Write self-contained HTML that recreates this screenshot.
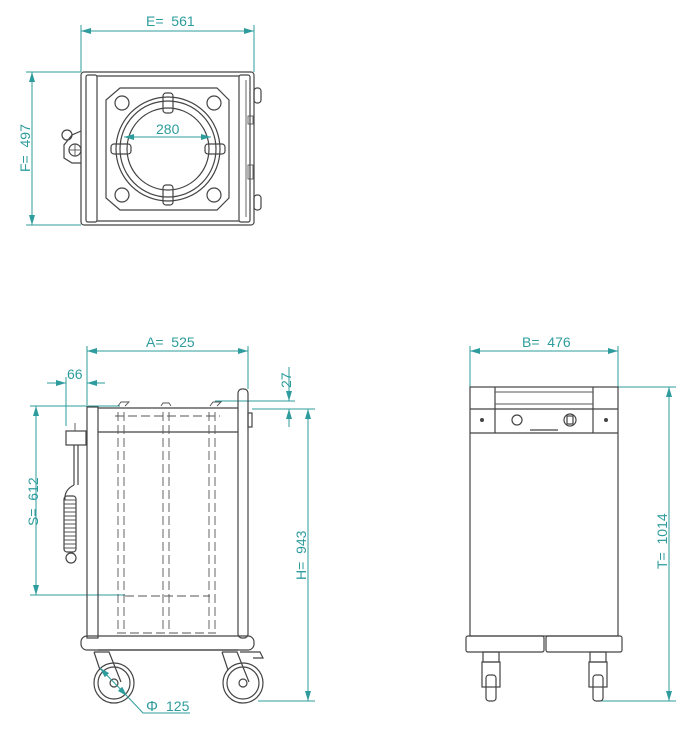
<!DOCTYPE html>
<html><head><meta charset="utf-8"><style>
html,body{margin:0;padding:0;background:#fff;}
svg{display:block;}
text{font-family:"Liberation Sans",sans-serif;fill:#2e9c9c;font-size:14px;}
.d{stroke:#2e9c9c;stroke-width:1;fill:none;}
.k{stroke:#444;stroke-width:1.2;fill:none;}
.kk{stroke:#555;stroke-width:0.9;fill:none;}
.da{stroke:#555;stroke-width:0.9;fill:none;stroke-dasharray:9 4;}
</style></head><body>
<svg width="700" height="729" viewBox="0 0 700 729">
<defs>
<marker id="a" markerWidth="10" markerHeight="6" refX="10" refY="3" orient="auto-start-reverse" markerUnits="userSpaceOnUse"><path d="M0,0 L10,3 L0,6z" fill="#2e9c9c"/></marker>
</defs>

<!-- ===== TOP VIEW ===== -->
<line class="d" x1="81" y1="25" x2="81" y2="72"/>
<line class="d" x1="254" y1="25" x2="254" y2="72"/>
<line class="d" x1="81" y1="31" x2="254" y2="31" marker-start="url(#a)" marker-end="url(#a)"/>
<text x="146" y="26">E= &#160;561</text>
<line class="d" x1="26" y1="72" x2="81" y2="72"/>
<line class="d" x1="26" y1="225" x2="81" y2="225"/>
<line class="d" x1="32" y1="72" x2="32" y2="225" marker-start="url(#a)" marker-end="url(#a)"/>
<text transform="translate(30,172) rotate(-90)">F= &#160;497</text>

<rect class="k" x="81" y="72" width="173" height="153" rx="3"/>
<rect class="k" x="86" y="75" width="11" height="147" rx="2"/>
<line class="k" x1="97" y1="76" x2="239" y2="76"/>
<line class="k" x1="97" y1="221" x2="239" y2="221"/>
<rect class="k" x="239" y="75" width="11" height="147" rx="2"/>
<line class="kk" x1="246" y1="80" x2="246" y2="217"/>
<rect class="k" x="254" y="88" width="7" height="15" rx="3"/>
<rect class="k" x="254" y="195" width="7" height="15" rx="3"/>
<rect class="kk" x="248" y="116" width="5" height="8"/>
<rect class="kk" x="248" y="165" width="5" height="14"/>
<polygon class="k" points="120,88 217,88 229,100 229,198 217,210 120,210 106,198 106,100"/>
<circle class="k" cx="168" cy="149" r="52"/>
<circle class="k" cx="168" cy="149" r="48"/>
<circle class="k" cx="168" cy="149" r="41"/>
<circle class="k" cx="122" cy="103" r="7"/>
<circle class="k" cx="214" cy="103" r="7"/>
<circle class="k" cx="122" cy="195" r="7"/>
<circle class="k" cx="214" cy="195" r="7"/>
<rect class="k" x="163" y="93" width="10" height="20" rx="3"/>
<rect class="k" x="163" y="185" width="10" height="20" rx="3"/>
<rect class="k" x="111" y="144" width="20" height="10" rx="3"/>
<rect class="k" x="205" y="144" width="20" height="10" rx="3"/>
<line class="d" x1="124" y1="137" x2="211" y2="137" marker-start="url(#a)" marker-end="url(#a)"/>
<text x="156" y="134">280</text>
<circle class="k" cx="67" cy="135" r="5"/>
<path class="k" d="M81,131 L72,135 L64,145 L64,158 L72,163 L81,163"/>
<circle class="k" cx="75" cy="150" r="6"/>
<line class="kk" x1="69" y1="150" x2="81" y2="150"/>
<line class="kk" x1="75" y1="144" x2="75" y2="156"/>

<!-- ===== FRONT VIEW ===== -->
<line class="d" x1="87" y1="346" x2="87" y2="405"/>
<line class="d" x1="248" y1="346" x2="248" y2="389"/>
<line class="d" x1="87" y1="351" x2="248" y2="351" marker-start="url(#a)" marker-end="url(#a)"/>
<text x="146" y="347">A= &#160;525</text>
<line class="d" x1="66" y1="377" x2="66" y2="426"/>
<line class="d" x1="47" y1="383" x2="66" y2="383" marker-end="url(#a)"/>
<line class="d" x1="87" y1="383" x2="105" y2="383" marker-start="url(#a)"/>
<text x="67" y="379">66</text>
<line class="d" x1="30" y1="406" x2="120" y2="406"/>
<line class="d" x1="30" y1="595" x2="125" y2="595"/>
<line class="d" x1="36" y1="406" x2="36" y2="595" marker-start="url(#a)" marker-end="url(#a)"/>
<text transform="translate(38,526) rotate(-90)">S= &#160;612</text>
<line class="d" x1="215" y1="401" x2="295" y2="401"/>
<line class="d" x1="252" y1="409" x2="315" y2="409"/>
<line class="d" x1="289" y1="367" x2="289" y2="401" marker-end="url(#a)"/>
<line class="d" x1="289" y1="409" x2="289" y2="427" marker-start="url(#a)"/>
<text transform="translate(291,388) rotate(-90)">27</text>
<line class="d" x1="258" y1="701" x2="315" y2="701"/>
<line class="d" x1="308" y1="409" x2="308" y2="701" marker-start="url(#a)" marker-end="url(#a)"/>
<text transform="translate(306,580) rotate(-90)">H= &#160;943</text>

<rect class="k" x="87" y="407" width="11" height="231"/>
<rect class="k" x="238" y="389" width="10" height="249" rx="4"/>
<line class="k" x1="98" y1="408" x2="238" y2="408"/>
<line class="k" x1="98" y1="432" x2="238" y2="432"/>
<rect class="k" x="248" y="413" width="4" height="14"/>
<rect class="k" x="81" y="636" width="173" height="14" rx="6"/>
<line class="k" x1="98" y1="650" x2="238" y2="650"/>
<path class="kk" d="M118,406 l3,-4 h8 l-4,4 M210,406 l3,-4 h8 l-4,4 M161,406 l2,-3 h6 l2,3"/>
<line class="da" x1="118" y1="412" x2="118" y2="630"/>
<line class="da" x1="124" y1="412" x2="124" y2="630"/>
<line class="da" x1="163" y1="412" x2="163" y2="630"/>
<line class="da" x1="169" y1="412" x2="169" y2="630"/>
<line class="da" x1="209" y1="412" x2="209" y2="630"/>
<line class="da" x1="215" y1="412" x2="215" y2="630"/>
<line class="da" x1="115" y1="416" x2="220" y2="416"/>
<line class="da" x1="125" y1="596" x2="210" y2="596"/>
<line class="da" x1="117" y1="633" x2="216" y2="633"/>
<rect class="k" x="66" y="431" width="20" height="14"/>
<line class="kk" x1="75" y1="423" x2="75" y2="431"/>
<line class="k" x1="74" y1="445" x2="74" y2="485"/>
<line class="k" x1="78" y1="445" x2="78" y2="485"/>
<path class="k" d="M74,485 Q64,490 65,500"/>
<rect class="k" x="64" y="496" width="12" height="56" rx="3"/>
<g stroke="#444" stroke-width="0.9"><line x1="64" y1="500" x2="76" y2="500"/><line x1="64" y1="504" x2="76" y2="504"/><line x1="64" y1="508" x2="76" y2="508"/><line x1="64" y1="512" x2="76" y2="512"/><line x1="64" y1="516" x2="76" y2="516"/><line x1="64" y1="520" x2="76" y2="520"/><line x1="64" y1="524" x2="76" y2="524"/><line x1="64" y1="528" x2="76" y2="528"/><line x1="64" y1="532" x2="76" y2="532"/><line x1="64" y1="536" x2="76" y2="536"/><line x1="64" y1="540" x2="76" y2="540"/><line x1="64" y1="544" x2="76" y2="544"/><line x1="64" y1="548" x2="76" y2="548"/></g>
<circle class="k" cx="71" cy="558" r="5"/>
<path class="k" d="M94,652 h15 l12,30 M94,652 l6,18"/>
<circle class="k" cx="114" cy="683" r="20"/>
<circle class="k" cx="114" cy="683" r="16"/>
<circle class="k" cx="114" cy="683" r="4"/>
<path class="k" d="M222,652 h15 l12,30 M222,652 l6,18 M240,652 h20 l3,6 h-10"/>
<circle class="k" cx="243" cy="683" r="20"/>
<circle class="k" cx="243" cy="683" r="16"/>
<circle class="k" cx="243" cy="683" r="4"/>
<line class="d" x1="100" y1="668" x2="127" y2="696" marker-start="url(#a)" marker-end="url(#a)"/>
<polyline class="d" points="127,696 143,713 190,713"/>
<text x="146" y="711" style="font-size:15px">&#934;</text>
<text x="166" y="711">125</text>

<!-- ===== SIDE VIEW ===== -->
<line class="d" x1="470" y1="346" x2="470" y2="387"/>
<line class="d" x1="618" y1="346" x2="618" y2="387"/>
<line class="d" x1="470" y1="351" x2="618" y2="351" marker-start="url(#a)" marker-end="url(#a)"/>
<text x="522" y="347">B= &#160;476</text>
<line class="d" x1="618" y1="387" x2="676" y2="387"/>
<line class="d" x1="600" y1="701" x2="676" y2="701"/>
<line class="d" x1="669" y1="387" x2="669" y2="701" marker-start="url(#a)" marker-end="url(#a)"/>
<text transform="translate(667,569) rotate(-90)">T= &#160;1014</text>

<rect class="k" x="470" y="387" width="148" height="249"/>
<line class="k" x1="470" y1="433" x2="618" y2="433"/>
<line class="k" x1="470" y1="409" x2="618" y2="409"/>
<line class="k" x1="495" y1="387" x2="495" y2="433"/>
<line class="k" x1="593" y1="387" x2="593" y2="433"/>
<line class="kk" x1="495" y1="392" x2="593" y2="392"/>
<line class="kk" x1="495" y1="404" x2="593" y2="404"/>
<circle cx="482" cy="420" r="2" fill="#444"/>
<circle cx="606" cy="420" r="2" fill="#444"/>
<circle class="k" cx="517" cy="420" r="5"/>
<circle class="k" cx="570" cy="420" r="6"/>
<rect class="k" x="567" y="416" width="6" height="8"/>
<line class="k" x1="530" y1="430" x2="558" y2="430"/>
<rect class="k" x="466" y="636" width="78" height="16" rx="2"/>
<rect class="k" x="546" y="636" width="76" height="16" rx="2"/>
<rect class="k" x="483" y="652" width="16" height="10"/>
<rect class="k" x="482" y="662" width="18" height="25"/>
<rect class="k" x="486" y="675" width="10" height="26" rx="3"/>
<rect class="k" x="590" y="652" width="16" height="10"/>
<rect class="k" x="589" y="662" width="18" height="25"/>
<rect class="k" x="593" y="675" width="10" height="26" rx="3"/>
</svg>
</body></html>
